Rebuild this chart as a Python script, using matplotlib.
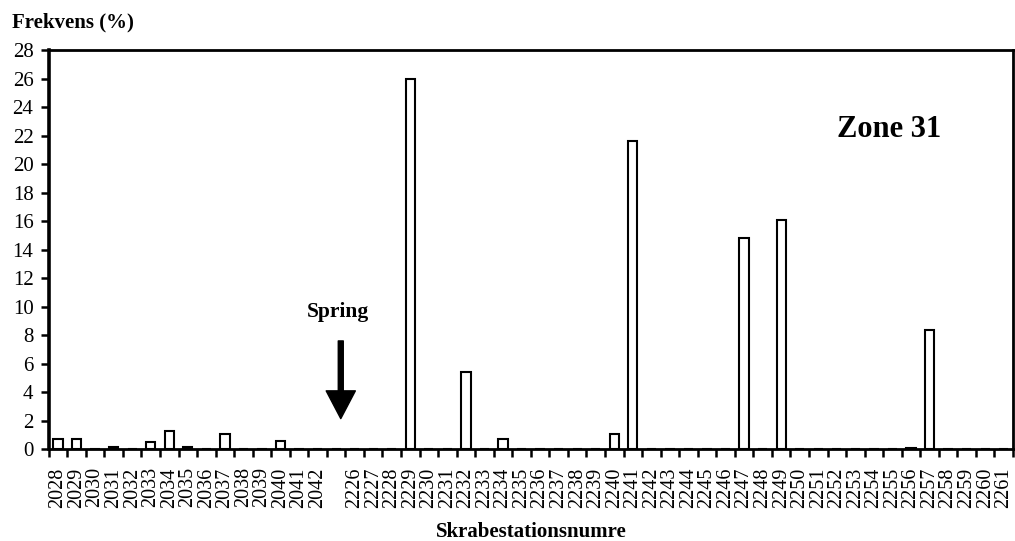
import matplotlib
matplotlib.use("Agg")
import matplotlib.pyplot as plt
import numpy as np

plt.rcParams['font.family'] = ['Liberation Serif', 'DejaVu Serif']

# Station numbers: the older series, an empty slot, then the newer series
stations_a = [str(s) for s in range(2028, 2043)]
stations_b = [str(s) for s in range(2226, 2262)]
labels = stations_a + [""] + stations_b

freq_a = [0.7, 0.7, 0, 0.15, 0, 0.5, 1.3, 0.15, 0, 1.05, 0.03, 0, 0.6, 0, 0]
freq_gap = [0]
freq_b = [0, 0.03, 0, 26.0, 0.03, 0, 5.45, 0, 0.75, 0, 0, 0, 0, 0, 1.05, 21.6,
          0, 0, 0.02, 0.03, 0, 14.85, 0, 16.05, 0, 0, 0.03, 0, 0, 0, 0.08, 8.35,
          0, 0, 0, 0]
freq = freq_a + freq_gap + freq_b

fig = plt.figure(figsize=(10.15, 5.41), dpi=100)
ax = fig.add_axes([0.048, 0.1695, 0.950, 0.738])

x = np.arange(len(labels))
ax.bar(x, freq, width=0.5, facecolor="white", edgecolor="black", linewidth=1.5)

ax.set_xlim(-0.5, len(labels) - 0.5)
ax.set_ylim(0, 28)
ax.set_yticks(np.arange(0, 29, 2))

# tick marks sit between categories, labels at category centres
ax.set_xticks(np.arange(-0.5, len(labels), 1.0))
ax.set_xticklabels([])
ax.set_xticks(x, minor=True)
ax.set_xticklabels(labels, minor=True, rotation=90, fontsize=14.5)
ax.tick_params(axis='x', which='major', direction='out', length=6, width=1.8)
ax.tick_params(axis='x', which='minor', length=0, pad=13)
ax.tick_params(axis='y', direction='out', length=6, width=1.8, labelsize=15, pad=5)

for side in ['top', 'right', 'bottom']:
    ax.spines[side].set_linewidth(2)
ax.spines['left'].set_linewidth(2.6)

ax.set_xlabel("Skrabestationsnumre", fontsize=15, fontweight='bold', labelpad=10)
fig.text(0.012, 0.958, "Frekvens (%)", fontsize=15, fontweight='bold',
         ha='left', va='center')

ax.text(44.8, 22.4, "Zone 31", fontsize=22, fontweight='bold',
        ha='center', va='center')

ax.text(15.1, 9.6, "Spring", fontsize=15.5, fontweight='bold',
        ha='center', va='center')
ax.annotate("", xy=(15.25, 2.15), xytext=(15.25, 7.6),
            arrowprops=dict(width=3.6, headwidth=21, headlength=20,
                            facecolor="black", edgecolor="black",
                            shrink=0))

fig.savefig("out.png", dpi=100, facecolor="white")
